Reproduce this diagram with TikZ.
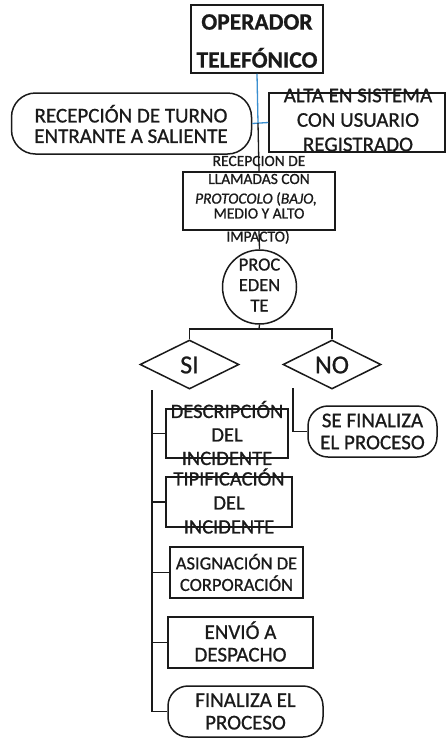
\documentclass[tikz,border=0pt]{standalone}
\usepackage{fontspec}
\setmainfont{Carlito}[RawFeature={embolden=0.8}]
\usetikzlibrary{shapes.geometric}
\definecolor{ink}{HTML}{1A1A1A}
\definecolor{bluel}{HTML}{3A8FD0}
\begin{document}
\begin{tikzpicture}[x=1pt,y=-1pt,
  box/.style={draw=ink, line width=1.5pt, fill=white, inner sep=0pt, rectangle},
  pill/.style={box, rounded corners=24pt},
  pillb/.style={box, rounded corners=20pt},
  dia/.style={draw=ink, line width=1.5pt, fill=white, diamond, inner sep=0pt},
  circ/.style={draw=ink, line width=1.5pt, fill=white, circle, inner sep=0pt},
  txt/.style={inner sep=0pt, align=center, text=ink},
  conn/.style={draw=ink, line width=1.3pt},
  bconn/.style={draw=bluel, line width=1.3pt}]
\useasboundingbox (0,0) rectangle (446,740);
\fill[white] (0,0) rectangle (446,740);

\coordinate (j1) at (258,123);
\coordinate (j2) at (259,329);
\coordinate (sitop) at (152,390);
\coordinate (sibot) at (152,712);
\coordinate (notop) at (293,388);

\node[box, minimum width=132pt, minimum height=68pt] (op) at (257,39) {};
\node[txt, font=\fontsize{23.5}{38}\selectfont\bfseries] (opT) at (257,41) {OPERADOR\\TELEFÓNICO};

\node[pill, minimum width=240pt, minimum height=61pt] (turno) at (131.5,123.5) {};
\node[txt, font=\fontsize{21}{20.5}\selectfont] (turnoT) at (131,124) {RECEPCIÓN DE TURNO\\ENTRANTE A SALIENTE};

\node[box, minimum width=176pt, minimum height=59pt] (alta) at (357,122.5) {};
\node[txt, font=\fontsize{21}{24.5}\selectfont] (altaT) at (358,120) {ALTA EN SISTEMA\\CON USUARIO\\REGISTRADO};

\node[box, minimum width=152pt, minimum height=58pt] (llam) at (259,201) {};

\node[circ, minimum size=74pt] (proc) at (259.5,287) {};
\node[txt, font=\fontsize{18.5}{20.5}\selectfont] (procT) at (259.5,285) {PROC\\EDEN\\TE};

\node[dia, minimum width=99pt, minimum height=49pt] (si) at (189.5,364.5) {};
\node[txt, font=\fontsize{26}{26}\selectfont] (siT) at (189.5,365) {SI};
\node[dia, minimum width=98pt, minimum height=49pt] (no) at (332,364.5) {};
\node[txt, font=\fontsize{26}{26}\selectfont] (noT) at (332,365) {NO};

\draw[bconn] (op.south) -- (j1);
\draw[bconn] (turno.east) -- (alta.west);
\draw[conn] (j1) -- (llam.north);
\draw[conn] (llam.south) -- (proc.north);
\draw[conn] (proc.south) -- (j2);
\draw[conn] (si.north) |- (j2) -| (no.north);
\draw[conn] (sitop) -- (sibot);

\node[box, minimum width=122pt, minimum height=49pt] (desc) at (227,433.5) {};
\node[txt, font=\fontsize{20.5}{23.5}\selectfont] (descT) at (227,433) {DESCRIPCIÓN\\DEL\\INCIDENTE};

\node[box, minimum width=126pt, minimum height=50pt] (tipi) at (229,502) {};
\node[txt, font=\fontsize{20.5}{24}\selectfont] (tipiT) at (229,501) {TIPIFICACIÓN\\DEL\\INCIDENTE};

\node[box, minimum width=133pt, minimum height=51pt] (asig) at (236.5,572.5) {};
\node[txt, font=\fontsize{18.5}{21.5}\selectfont] (asigT) at (236.5,572.5) {ASIGNACIÓN DE\\CORPORACIÓN};

\node[box, minimum width=145pt, minimum height=51pt] (envio) at (240.5,642.5) {};
\node[txt, font=\fontsize{21}{22.5}\selectfont] (envioT) at (240.5,641.5) {ENVIÓ A\\DESPACHO};

\node[pillb, minimum width=155pt, minimum height=51pt] (fin2) at (245.5,711.5) {};
\node[txt, font=\fontsize{21}{22.5}\selectfont] (fin2T) at (245.5,711.5) {FINALIZA EL\\PROCESO};

\node[pillb, minimum width=129pt, minimum height=51pt] (fin1) at (372.5,431.5) {};
\node[txt, font=\fontsize{21}{22}\selectfont] (fin1T) at (372.5,431.5) {SE FINALIZA\\EL PROCESO};

\draw[conn] (notop) |- (fin1.west);
\draw[conn] (sitop |- desc.west) -- (desc.west);
\draw[conn] (sitop |- tipi.west) -- (tipi.west);
\draw[conn] (sitop |- asig.west) -- (asig.west);
\draw[conn] (sitop |- envio.west) -- (envio.west);
\draw[conn] (sitop |- fin2.west) -- (fin2.west);

\node[txt, font=\fontsize{15.5}{16}\selectfont] (l1) at (259,161) {RECEPCION DE};
\node[txt, font=\fontsize{15.5}{16}\selectfont] (l2) at (259,179) {LLAMADAS CON};
\node[txt, font=\fontsize{15.5}{16}\selectfont] (l3) at (256,199) {\textit{PROTOCOLO} (\textit{BAJO,}};
\node[txt, font=\fontsize{15.5}{16}\selectfont] (l4) at (259,213.5) {MEDIO Y ALTO};
\node[txt, font=\fontsize{15.5}{16}\selectfont] (l5) at (258,237) {IMPACTO)};
\end{tikzpicture}
\end{document}
